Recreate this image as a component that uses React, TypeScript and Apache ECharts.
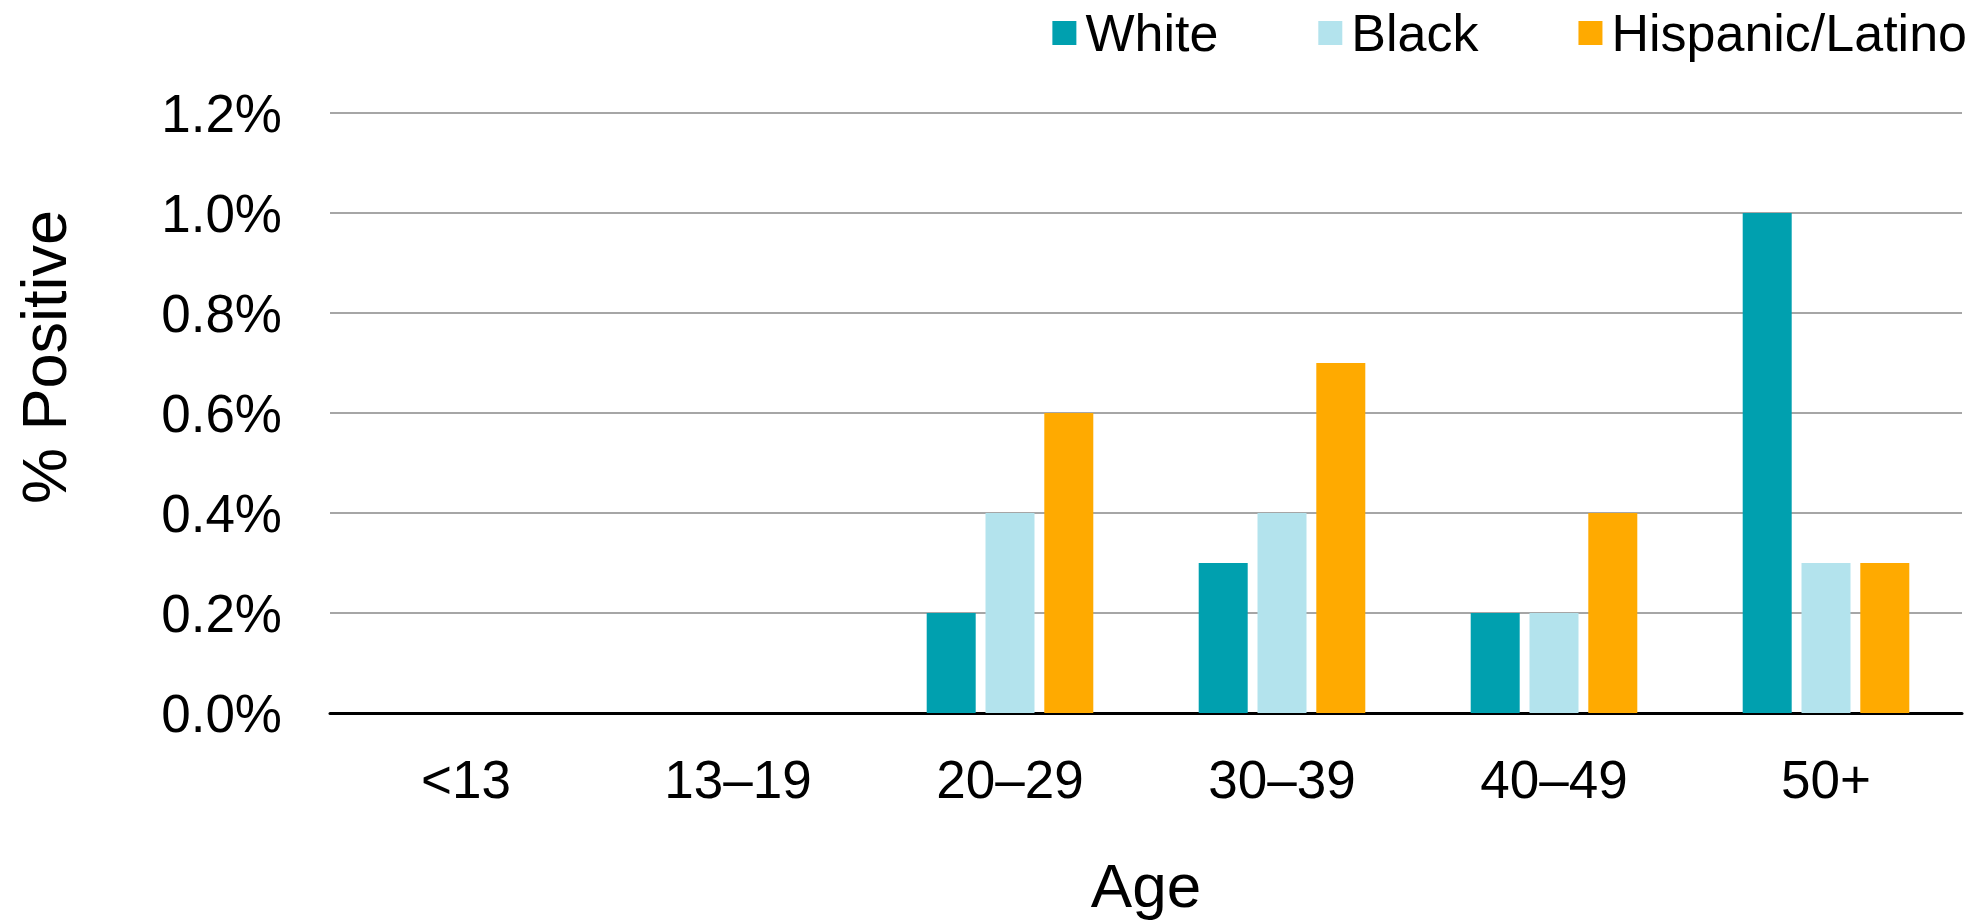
import React, { useEffect, useRef } from "react";
import * as echarts from "echarts";

const categories = ["<13", "13–19", "20–29", "30–39", "40–49", "50+"];
const white = [0, 0, 0.2, 0.3, 0.2, 1.0];
const black = [0, 0, 0.4, 0.4, 0.2, 0.3];
const hispanic = [0, 0, 0.6, 0.7, 0.4, 0.3];
const seriesNames = ["White", "Black", "Hispanic/Latino"];
const colors = ["#00A0AF", "#B3E3ED", "#FFAA00"];

const FONT = "'Liberation Sans', Arial, Helvetica, sans-serif";

export default function App() {
  const ref = useRef<HTMLDivElement>(null);
  useEffect(() => {
    if (!ref.current) return;
    const chart = echarts.init(ref.current, null, { renderer: "svg" });
    const data = [white, black, hispanic];
    chart.setOption({
      animation: false,
      backgroundColor: "#ffffff",
      textStyle: { fontFamily: FONT },
      grid: { left: 330, right: 25, top: 113, bottom: 206, containLabel: false },
      legend: {
        right: 15,
        top: 2,
        itemWidth: 24,
        itemHeight: 24,
        itemGap: 100,
        icon: "rect",
        textStyle: { fontSize: 52, color: "#000", fontFamily: FONT, padding: [0, 0, 0, 4] },
        data: seriesNames,
      },
      xAxis: {
        type: "category",
        data: categories,
        name: "Age",
        nameLocation: "middle",
        nameGap: 141,
        nameTextStyle: { fontSize: 62, color: "#000", fontFamily: FONT },
        axisLine: { lineStyle: { color: "#000", width: 3 } },
        axisTick: { show: false },
        axisLabel: { fontSize: 53, color: "#000", margin: 40, fontFamily: FONT },
      },
      yAxis: {
        type: "value",
        min: 0,
        max: 1.2,
        interval: 0.2,
        axisLine: { show: false },
        axisTick: { show: false },
        axisLabel: {
          fontSize: 53,
          color: "#000",
          margin: 48,
          fontFamily: FONT,
          formatter: (v: number) => v.toFixed(1) + "%",
        },
        splitLine: { lineStyle: { color: "#A6A6A6", width: 2 } },
      },
      graphic: [
        {
          type: "text",
          x: 44,
          y: 357,
          rotation: Math.PI / 2,
          style: {
            text: "% Positive",
            fontSize: 63,
            fontFamily: FONT,
            fill: "#000",
            textAlign: "center",
            textVerticalAlign: "middle",
          },
        },
      ],
      series: seriesNames.map((n, i) => ({
        name: n,
        type: "bar",
        data: data[i],
        barWidth: 49,
        barGap: "20%",
        itemStyle: { color: colors[i] },
      })),
    });
    return () => chart.dispose();
  }, []);
  return (
    <div
      ref={ref}
      style={{ position: "fixed", left: 0, top: 0, width: 1987, height: 921 }}
    />
  );
}
